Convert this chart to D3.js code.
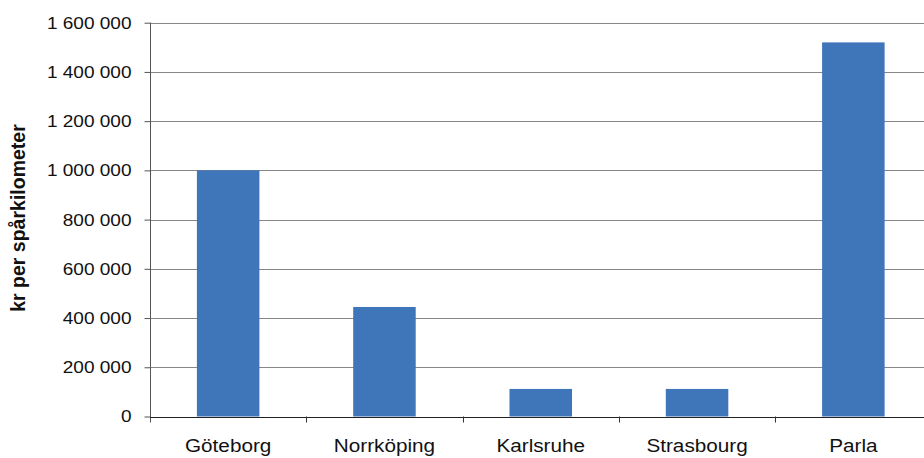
<!DOCTYPE html>
<html>
<head>
<meta charset="utf-8">
<script src="https://cdn.jsdelivr.net/npm/d3@7"></script>
<style>
    body { margin: 0; background: #fff; }
    svg { display: block; font-family: 'Liberation Sans', Arial, sans-serif; }
</style>
</head>
<body>
<svg id="chart" width="924" height="458"></svg>
<script>
// städer och kostnad per spårkilometer
const cities = ['Göteborg', 'Norrköping', 'Karlsruhe', 'Strasbourg', 'Parla']
const costs = [1000000, 445000, 112000, 112000, 1520000]
const yTicks = [0, 200000, 400000, 600000, 800000, 1000000, 1200000, 1400000, 1600000]
const yTitle = 'kr per spårkilometer'

const svg = d3.select('#chart')
const plot = { left: 150, right: 931.5, top: 22.7, bottom: 416.5 }
const stretch = 1.12 // texten i originalet är något utdragen i sidled

// skalor
const xBand = d3.scaleBand().domain(cities).range([plot.left, plot.right]).padding(0)
const xBar = d3.scaleBand().domain(cities).range([plot.left, plot.right]).paddingInner(0.6).paddingOuter(0.3)
const y = d3.scaleLinear().domain([0, 1600000]).range([plot.bottom, plot.top])

const fmt = (v) => d3.format(',')(v).replace(/,/g, ' ')

// rutnät
svg.append('g')
    .selectAll('line')
    .data(yTicks.filter((d) => d > 0))
    .join('line')
    .attr('x1', plot.left)
    .attr('x2', 924)
    .attr('y1', (d) => Math.round(y(d)) + 0.5)
    .attr('y2', (d) => Math.round(y(d)) + 0.5)
    .attr('stroke', '#878787')
    .attr('stroke-width', 1)

// staplar
svg.append('g')
    .selectAll('rect')
    .data(cities)
    .join('rect')
    .attr('x', (d) => xBar(d))
    .attr('width', xBar.bandwidth())
    .attr('y', (d, i) => y(costs[i]))
    .attr('height', (d, i) => y(0) - y(costs[i]))
    .attr('fill', '#3F76BA')

// y-axel
const yAxis = svg.append('g')
    .attr('transform', `translate(${plot.left + 0.5},0)`)
    .call(d3.axisLeft(y).tickValues(yTicks).tickFormat(fmt).tickSize(6).tickPadding(13))
yAxis.select('.domain').remove()
yAxis.selectAll('.tick line').attr('stroke', '#555')
yAxis.selectAll('.tick text')
    .attr('font-size', 17)
    .attr('fill', '#111')
    .attr('font-family', "'Liberation Sans', Arial, sans-serif")
    .attr('transform', `translate(-19,0) scale(${stretch},1) translate(19,0)`)
svg.append('line')
    .attr('x1', plot.left + 0.5).attr('x2', plot.left + 0.5)
    .attr('y1', plot.top).attr('y2', plot.bottom + 6)
    .attr('stroke', '#555')

// x-axel
svg.append('line')
    .attr('x1', plot.left).attr('x2', 924)
    .attr('y1', Math.round(plot.bottom) + 0.5).attr('y2', Math.round(plot.bottom) + 0.5)
    .attr('stroke', '#222')
svg.append('g')
    .selectAll('line')
    .data(cities.slice(1))
    .join('line')
    .attr('x1', (d) => Math.round(xBand(d)) + 0.5)
    .attr('x2', (d) => Math.round(xBand(d)) + 0.5)
    .attr('y1', plot.bottom)
    .attr('y2', plot.bottom + 6)
    .attr('stroke', '#333')

svg.append('g')
    .selectAll('text')
    .data(cities)
    .join('text')
    .attr('text-anchor', 'middle')
    .attr('font-size', 18.5)
    .attr('fill', '#111')
    .attr('transform', (d) => `translate(${xBand(d) + xBand.bandwidth() / 2},452) scale(${stretch},1)`)
    .text((d) => d)

// axeltitel
svg.append('text')
    .attr('transform', 'translate(25,218) rotate(-90)')
    .attr('text-anchor', 'middle')
    .attr('font-size', 19.5)
    .attr('font-weight', 'bold')
    .attr('fill', '#111')
    .text(yTitle)
</script>
</body>
</html>
